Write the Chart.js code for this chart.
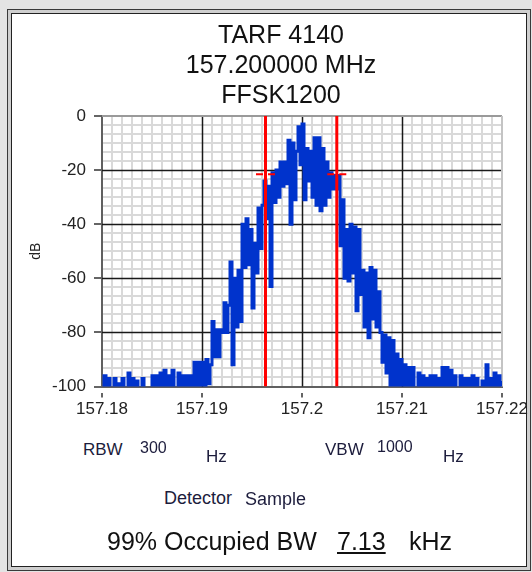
<!DOCTYPE html>
<html>
<head>
<meta charset="utf-8">
<script src="https://cdn.jsdelivr.net/npm/chart.js@4.4.1/dist/chart.umd.min.js"></script>
<style>
  html, body { margin: 0; padding: 0; }
  body {
    width: 532px; height: 572px; position: relative; overflow: hidden;
    background: #e4e4e4; color: #111;
    font-family: "Liberation Sans", Arial, sans-serif;
  }
  #outer {
    position: absolute; left: 7px; top: 9px; width: 524px; height: 562px;
    box-sizing: border-box; border: 1px solid #3a3a3a; background: #cfcfcf;
  }
  #inner {
    position: absolute; left: 3px; top: 3px; right: 3px; bottom: 3px;
    border: 1px solid #222; background: #fff;
  }
  #chart { position: absolute; left: 0; top: 0; }
  .t { position: absolute; white-space: nowrap; line-height: 1; z-index: 2; }
  .title { position: absolute; left: 0; top: 19px; width: 562px; text-align: center;
           font-size: 25px; line-height: 30px; z-index: 2; }
  .lbl { color: #1c1c3c; }
</style>
</head>
<body>
<div id="outer"><div id="inner"></div></div>
<canvas id="chart" width="532" height="440"></canvas>

<div class="title">TARF 4140<br>157.200000 MHz<br>FFSK1200</div>

<div class="t lbl" style="left:83px;top:441px;font-size:17px">RBW</div>
<div class="t lbl" style="left:140px;top:440px;font-size:16px">300</div>
<div class="t lbl" style="left:206px;top:448px;font-size:17px">Hz</div>
<div class="t lbl" style="left:325px;top:441px;font-size:17px">VBW</div>
<div class="t lbl" style="left:377px;top:439px;font-size:16px">1000</div>
<div class="t lbl" style="left:443px;top:448px;font-size:17px">Hz</div>
<div class="t lbl" style="left:164px;top:489px;font-size:18px">Detector</div>
<div class="t lbl" style="left:245px;top:490px;font-size:18px">Sample</div>
<div class="t" style="left:107px;top:529px;font-size:25px">99% Occupied BW</div>
<div class="t" style="left:337px;top:529px;font-size:25px;text-decoration:underline">7.13</div>
<div class="t" style="left:409px;top:529px;font-size:25px">kHz</div>

<script>
// sweep: 201 samples from 157.18 MHz, 0.2 kHz apart
const FREQ_START = 157.18;
const FREQ_STEP = 0.0002;

// trace level in dB
const levels = [
  -101, -96, -101, -97, -101, -101, -97, -101, -99, -101,
  -97, -101, -101, -95, -101, -97, -101, -98, -101, -101,
  -97, -101, -101, -101, -101, -96, -101, -96, -101, -95,
  -101, -94, -101, -96, -101, -94, -101, -101, -95, -101,
  -96, -101, -96, -101, -96, -101, -91, -101, -91, -100,
  -91, -101, -90, -99, -92, -76, -89, -79, -89, -79,
  -80, -69, -80, -70, -54, -92, -60, -78, -57, -76,
  -40, -56, -38, -55, -42, -71, -47, -58, -34, -49,
  -33, -24, -38, -26, -63, -21, -32, -20, -30, -17,
  -26, -17, -25, -9, -40, -10, -31, -13, -4, -18,
  -3, -31, -12, -24, -13, -30, -8, -33, -8, -35,
  -12, -33, -17, -30, -21, -27, -22, -27, -22, -48,
  -31, -60, -42, -61, -40, -58, -41, -72, -42, -66,
  -57, -78, -58, -82, -56, -75, -57, -78, -65, -80,
  -91, -81, -95, -82, -101, -83, -101, -88, -101, -90,
  -101, -92, -101, -93, -101, -93, -101, -101, -95, -101,
  -96, -101, -97, -101, -96, -101, -96, -101, -97, -101,
  -93, -101, -93, -101, -94, -101, -96, -101, -101, -96,
  -101, -97, -101, -97, -101, -96, -101, -97, -101, -101,
  -98, -101, -92, -101, -97, -101, -95, -101, -96, -101,
  -98,
];

// occupied bandwidth markers
const markerFreqs = [157.19635, 157.20348];
const markerLevel = -21.5;
const markerHalfSpan = 0.00095;

const xTickLabels = ["157.18", "157.19", "157.2", "157.21", "157.22"];
const yTickLabels = ["-100", "-80", "-60", "-40", "-20", "0"];
const X_MINOR_PER_MAJOR = 10;
const Y_MINOR_PER_MAJOR = 6;

const xMin = Number(xTickLabels[0]);
const xMax = Number(xTickLabels[xTickLabels.length - 1]);
const yMin = Number(yTickLabels[0]);
const yMax = Number(yTickLabels[yTickLabels.length - 1]);

function minorTicks(min, max, majors, perMajor) {
  const n = (majors - 1) * perMajor;
  const out = [];
  for (let i = 0; i <= n; i++) out.push({ value: min + ((max - min) * i) / n });
  return out;
}

const majorGrid = {
  id: "majorGrid",
  beforeDatasetsDraw(chart) {
    const { ctx, chartArea: a, scales } = chart;
    ctx.save();
    ctx.lineWidth = 1.5;
    ctx.strokeStyle = "#1a1a1a";
    ctx.beginPath();
    xTickLabels.slice(1, -1).forEach((v) => {
      const px = Math.round(scales.x.getPixelForValue(Number(v))) + 0.5;
      ctx.moveTo(px, a.top);
      ctx.lineTo(px, a.bottom);
    });
    yTickLabels.slice(1, -1).forEach((v) => {
      const py = Math.round(scales.y.getPixelForValue(Number(v))) + 0.5;
      ctx.moveTo(a.left, py);
      ctx.lineTo(a.right, py);
    });
    ctx.stroke();
    // top and right edge of the plot
    ctx.lineWidth = 2;
    ctx.strokeStyle = "#9a9a9a";
    ctx.beginPath();
    ctx.moveTo(a.left, a.top);
    ctx.lineTo(a.right, a.top);
    ctx.stroke();
    ctx.strokeStyle = "#c4c4c4";
    ctx.beginPath();
    ctx.moveTo(a.right, a.top);
    ctx.lineTo(a.right, a.bottom);
    ctx.stroke();
    ctx.restore();
  },
};

function buildDatasets() {
  const trace = levels.map((v, i) => ({ x: FREQ_START + i * FREQ_STEP, y: v }));
  const sets = [];
  markerFreqs.forEach((f) => {
    sets.push({
      data: [{ x: f, y: yMax }, { x: f, y: yMin }],
      borderColor: "#ff0000",
      borderWidth: 3,
      pointRadius: 0,
      clip: 0,
    });
    sets.push({
      data: [
        { x: f - markerHalfSpan, y: markerLevel },
        { x: f + markerHalfSpan, y: markerLevel },
      ],
      borderColor: "#ff0000",
      borderWidth: 2,
      borderDash: [7, 5],
      pointRadius: 0,
      clip: 0,
    });
  });
  sets.push({
    data: trace,
    borderColor: "#0033cc",
    borderWidth: 3,
    borderJoinStyle: "miter",
    stepped: true,
    pointRadius: 0,
    clip: 0,
  });
  return sets;
}

new Chart(document.getElementById("chart"), {
  type: "line",
  data: { datasets: buildDatasets() },
  plugins: [majorGrid],
  options: {
    responsive: false,
    animation: false,
    devicePixelRatio: 1,
    layout: { padding: { left: 22, right: 30, top: 116, bottom: 13.5 } },
    plugins: {
      legend: { display: false },
      tooltip: { enabled: false },
    },
    scales: {
      x: {
        type: "linear",
        min: xMin,
        max: xMax,
        afterBuildTicks: (s) => {
          s.ticks = minorTicks(xMin, xMax, xTickLabels.length, X_MINOR_PER_MAJOR);
        },
        afterFit: (s) => {
          s.height = 40;
        },
        border: { display: true, color: "#606060", width: 2 },
        grid: {
          color: (c) => (c.index % X_MINOR_PER_MAJOR === 0 ? "rgba(0,0,0,0)" : "#d9d9d9"),
          lineWidth: 2,
          tickColor: (c) => (c.index % X_MINOR_PER_MAJOR === 0 ? "#333" : "rgba(0,0,0,0)"),
          tickWidth: 1.5,
          tickLength: 11,
          tickBorderDash: [0, 5, 6, 100],
        },
        ticks: {
          autoSkip: false,
          maxRotation: 0,
          padding: 2,
          color: "#222",
          font: { family: "Liberation Sans", size: 17 },
          callback: (v, i) => (i % X_MINOR_PER_MAJOR === 0 ? xTickLabels[i / X_MINOR_PER_MAJOR] : ""),
        },
      },
      y: {
        type: "linear",
        min: yMin,
        max: yMax,
        afterBuildTicks: (s) => {
          s.ticks = minorTicks(yMin, yMax, yTickLabels.length, Y_MINOR_PER_MAJOR);
        },
        afterFit: (s) => {
          s.width = 80;
        },
        border: { display: true, color: "#606060", width: 2 },
        grid: {
          color: (c) => (c.index % Y_MINOR_PER_MAJOR === 0 ? "rgba(0,0,0,0)" : "#d9d9d9"),
          lineWidth: 2,
          tickColor: (c) => (c.index % Y_MINOR_PER_MAJOR === 0 ? "#333" : "rgba(0,0,0,0)"),
          tickWidth: 1.5,
          tickLength: 11,
          tickBorderDash: [0, 3, 7, 100],
        },
        ticks: {
          autoSkip: false,
          padding: 5,
          color: "#222",
          font: { family: "Liberation Sans", size: 17 },
          callback: (v, i) => (i % Y_MINOR_PER_MAJOR === 0 ? yTickLabels[i / Y_MINOR_PER_MAJOR] : ""),
        },
        title: {
          display: true,
          text: "dB",
          color: "#222",
          padding: { top: 6, bottom: 0 },
          font: { family: "Liberation Sans", size: 14 },
        },
      },
    },
  },
});
</script>
</body>
</html>
